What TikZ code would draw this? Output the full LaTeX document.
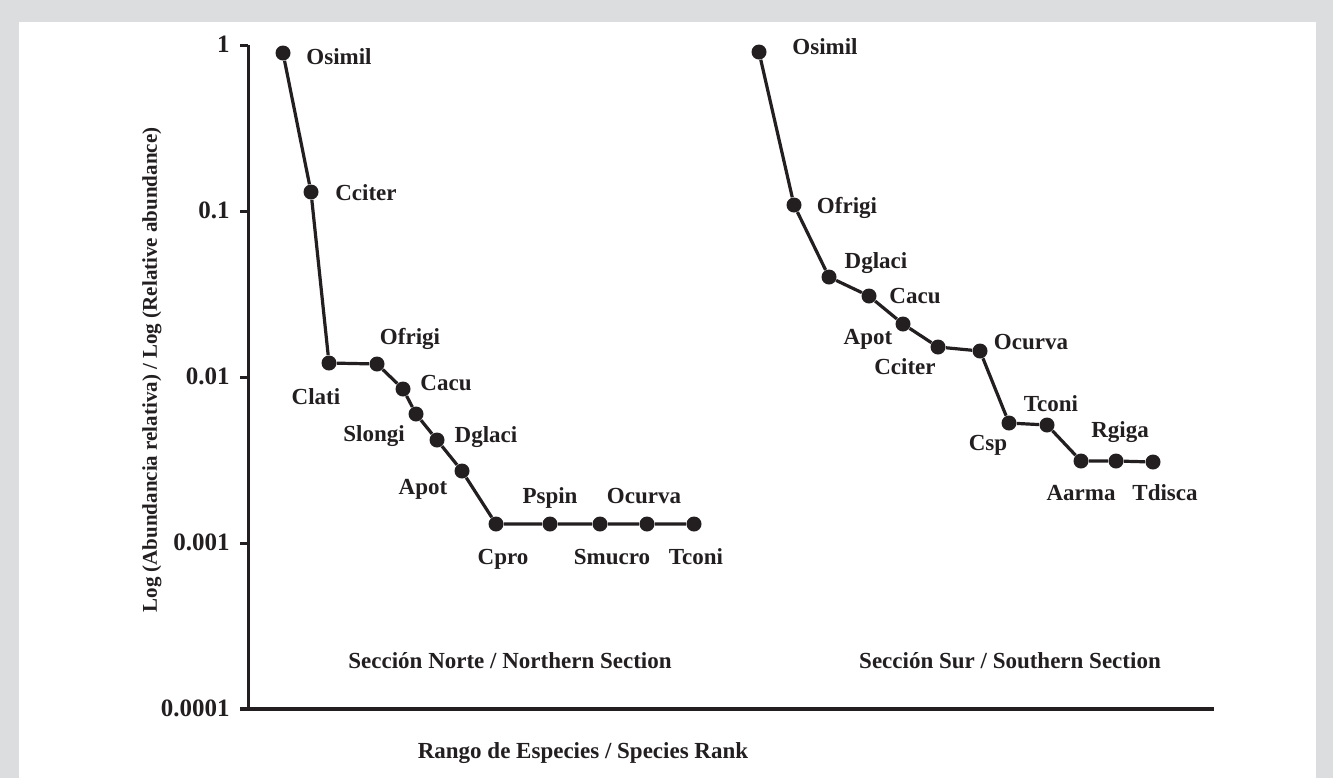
\documentclass[tikz,border=0pt]{standalone}
\usepackage{fontspec}
\setmainfont{Liberation Serif}
\usetikzlibrary{positioning}
\definecolor{ink}{HTML}{231F20}
\definecolor{frame}{HTML}{DCDDDF}

\begin{document}
\begin{tikzpicture}[x=0.5pt, y=-0.5pt,
  dot/.style={circle, fill=ink, inner sep=0pt, minimum size=7.5pt},
  tag/.style={font=\fontsize{11.5}{13}\selectfont\bfseries, text=ink, anchor=base, inner sep=0pt},
  ticklab/.style={font=\fontsize{12.5}{14}\selectfont\bfseries, text=ink, anchor=base east, inner sep=0pt},
  curve/.style={draw=ink, line width=1.6pt}]
  \useasboundingbox (0,0) rectangle (1333,778);
  \fill[frame] (0,0) rectangle (1333,778);
  \fill[white] (19,22) rectangle (1316,778);

  % axes
  \coordinate (top) at (248,45);
  \coordinate (origin) at (248,709);
  \coordinate (xend) at (1214,709);
  \draw[ink, line width=1.5pt] (top) -- (origin);
  \draw[ink, line width=2.4pt] (240,709) -- (xend);
  \foreach \v/\lab [count=\i] in {45/1, 211/0.1, 377/0.01, 543/0.001, 709/0.0001} {
    \draw[ink, line width=1.5pt] (240,\v) -- (248,\v);
    \node[ticklab] (t\i) at (230,\v+7) {\lab};
  }
  \node[tag, font=\fontsize{10.5}{12}\selectfont\bfseries, rotate=90, anchor=center] (ylab) at (152,370)
    {Log (Abundancia relativa) / Log (Relative abundance)};
  \node[tag] (xlab) at (583,758) {Rango de Especies / Species Rank};

  % Northern section
  \node[dot] (n1) at (283,53) {};
  \node[dot] (n2) at (311,192) {};
  \node[dot] (n3) at (329,363) {};
  \node[dot] (n4) at (377,364) {};
  \node[dot] (n5) at (403,389) {};
  \node[dot] (n6) at (416,414) {};
  \node[dot] (n7) at (437,440) {};
  \node[dot] (n8) at (462,471) {};
  \node[dot] (n9) at (496,524) {};
  \node[dot] (n10) at (550,524) {};
  \node[dot] (n11) at (600,524) {};
  \node[dot] (n12) at (647,524) {};
  \node[dot] (n13) at (694,524) {};

  \node[tag] (ln1) at ([shift={(56,11)}]n1) {Osimil};
  \node[tag] (ln2) at ([shift={(55,8)}]n2) {Cciter};
  \node[tag] (ln3) at ([shift={(-13,41)}]n3) {Clati};
  \node[tag] (ln4) at ([shift={(33,-20)}]n4) {Ofrigi};
  \node[tag] (ln5) at ([shift={(43,1)}]n5) {Cacu};
  \node[tag] (ln6) at ([shift={(-42,27)}]n6) {Slongi};
  \node[tag] (ln7) at ([shift={(49,2)}]n7) {Dglaci};
  \node[tag] (ln8) at ([shift={(-39,23)}]n8) {Apot};
  \node[tag] (ln9) at ([shift={(7,40)}]n9) {Cpro};
  \node[tag] (ln10) at ([shift={(0,-21)}]n10) {Pspin};
  \node[tag] (ln11) at ([shift={(12,40)}]n11) {Smucro};
  \node[tag] (ln12) at ([shift={(-3,-21)}]n12) {Ocurva};
  \node[tag] (ln13) at ([shift={(2,40)}]n13) {Tconi};
  \node[tag] (north) at (510,668) {Sección Norte / Northern Section};

  % Southern section
  \node[dot] (s1) at (759,52) {};
  \node[dot] (s2) at (794,205) {};
  \node[dot] (s3) at (829,277) {};
  \node[dot] (s4) at (869,296) {};
  \node[dot] (s5) at (903,324) {};
  \node[dot] (s6) at (938,347) {};
  \node[dot] (s7) at (980,351) {};
  \node[dot] (s8) at (1009,423) {};
  \node[dot] (s9) at (1047,425) {};
  \node[dot] (s10) at (1081,461) {};
  \node[dot] (s11) at (1116,461) {};
  \node[dot] (s12) at (1153,462) {};

  \node[tag] (ls1) at ([shift={(66,2)}]s1) {Osimil};
  \node[tag] (ls2) at ([shift={(53,8)}]s2) {Ofrigi};
  \node[tag] (ls3) at ([shift={(47,-9)}]s3) {Dglaci};
  \node[tag] (ls4) at ([shift={(46,7)}]s4) {Cacu};
  \node[tag] (ls5) at ([shift={(-35,20)}]s5) {Apot};
  \node[tag] (ls6) at ([shift={(-33,27)}]s6) {Cciter};
  \node[tag] (ls7) at ([shift={(51,-2)}]s7) {Ocurva};
  \node[tag] (ls8) at ([shift={(-21,27)}]s8) {Csp};
  \node[tag] (ls9) at ([shift={(4,-14)}]s9) {Tconi};
  \node[tag] (ls10) at ([shift={(0,39)}]s10) {Aarma};
  \node[tag] (ls11) at ([shift={(4,-24)}]s11) {Rgiga};
  \node[tag] (ls12) at ([shift={(12,38)}]s12) {Tdisca};
  \node[tag] (south) at (1010,668) {Sección Sur / Southern Section};

  % Connect the nodes
  \draw[curve] (n1) -- (n2) -- (n3) -- (n4) -- (n5) -- (n6) -- (n7) -- (n8)
    -- (n9) -- (n10) -- (n11) -- (n12) -- (n13);
  \draw[curve] (s1) -- (s2) -- (s3) -- (s4) -- (s5) -- (s6) -- (s7) -- (s8)
    -- (s9) -- (s10) -- (s11) -- (s12);
\end{tikzpicture}
\end{document}
